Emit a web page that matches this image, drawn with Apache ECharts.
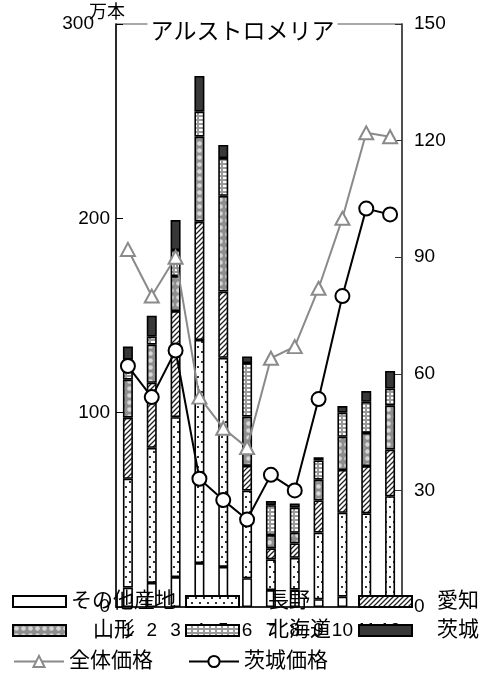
<!DOCTYPE html>
<html><head><meta charset="utf-8">
<script src="https://cdn.jsdelivr.net/npm/echarts@6/dist/echarts.min.js"></script>
<style>html,body{margin:0;padding:0;background:#fff}#c{width:485px;height:678px}</style>
</head><body><div id="c"></div>
<script>
// ---- data ----
const months = ['1','2','3','4','5','6','7','8','9','10','11','12'];
const sonota   = [10, 12.4, 15.4, 22.6, 20.6, 14.8, 8.7, 9, 4, 5.3, 4.6, 4];
const nagano   = [56, 69.5, 82.3, 114.8, 107.6, 45.1, 15.8, 16.3, 34.3, 43.2, 43.6, 53];
const aichi    = [31.4, 33.5, 54.6, 60.9, 34.1, 12.7, 5.7, 7.4, 16.5, 22, 24.3, 24];
const yamagata = [19.6, 19.6, 18, 43.7, 49.3, 25.4, 6.8, 5.5, 10.7, 17.1, 17.1, 22.8];
const hokkaido = [10.3, 4.1, 13.4, 12.9, 19.4, 27.5, 15.4, 12.9, 9.9, 12.4, 16, 8.6];
const ibaraki  = [6.7, 10.8, 15.4, 18.4, 6.8, 3.4, 2.2, 2.2, 1.7, 3.4, 5.5, 9.1];
const zentaiPrice  = [92, 80, 90, 54, 46, 41, 64, 67, 82, 100, 122, 121];
const ibarakiPrice = [62, 54, 66, 33, 27.5, 22.5, 34, 30, 53.5, 80, 102.5, 101];
const leftTicks = {min:0, max:300, interval:100};
const rightTicks = {min:0, max:150, interval:30};

const FONT = "'Liberation Sans', 'Noto Sans CJK JP', sans-serif";

function pat(w, h, draw){
  const c = document.createElement('canvas'); c.width = w; c.height = h;
  const g = c.getContext('2d'); draw(g); return {image: c, repeat: 'repeat'};
}
const pWhite = '#ffffff';
const pDots = pat(8, 10, g => { g.fillStyle='#fff'; g.fillRect(0,0,8,10); g.fillStyle='#333'; g.fillRect(1,1,2,2); g.fillRect(5,6,2,2); });
const pHatch = pat(5, 5, g => { g.fillStyle='#fff'; g.fillRect(0,0,5,5); g.strokeStyle='#222'; g.lineWidth=1.3;
  g.beginPath(); g.moveTo(-1,6); g.lineTo(6,-1); g.moveTo(-1,1); g.lineTo(1,-1); g.moveTo(4,6); g.lineTo(6,4); g.stroke(); });
const pCircles = pat(7, 7, g => { g.fillStyle='#8e8e8e'; g.fillRect(0,0,7,7); g.fillStyle='#d6d6d6'; g.beginPath(); g.arc(3.5,3.5,2.3,0,Math.PI*2); g.fill(); });
const pGrid = pat(6, 4, g => { g.fillStyle='#9a9a9a'; g.fillRect(0,0,6,4); g.fillStyle='#fff'; g.fillRect(1,1,4,2); });
const pBlack = '#383838';

function barSeries(name, data, color){
  return {name, type:'bar', stack:'total', data, barWidth:10, yAxisIndex:0,
    itemStyle:{color, borderColor:'#000', borderWidth:1.6}};
}

const legBase = {padding:0, itemGap:0, textStyle:{fontSize:21, color:'#000', fontFamily:FONT}};
function leg(name, left, top, textPad, isLine){
  return Object.assign({}, legBase, {
    data:[name], left, top,
    icon: isLine ? undefined : 'rect',
    itemWidth: isLine ? 50 : 53, itemHeight: isLine ? 14 : 11,
    textStyle: Object.assign({}, legBase.textStyle, {padding:[0,0,0,textPad]})
  });
}

const chart = echarts.init(document.getElementById('c'), null, {renderer:'canvas'});
chart.setOption({
  animation:false,
  backgroundColor:'#fff',
  textStyle:{fontFamily:FONT},
  title:{text:'アルストロメリア', left:'center', top:19, padding:[2,3], backgroundColor:'#fff',
    textStyle:{fontSize:23, fontWeight:'normal', color:'#000', fontFamily:FONT}},
  grid:{left:116, right:83, top:24, bottom:71, show:true, borderColor:'#8c8c8c', borderWidth:1.5},
  xAxis:{type:'category', data:months,
    axisLine:{lineStyle:{color:'#000', width:1.5}},
    axisTick:{inside:true, length:5, lineStyle:{color:'#000'}},
    axisLabel:{interval:0, margin:14, fontSize:19, color:'#000', fontFamily:FONT}},
  yAxis:[
    Object.assign({type:'value', name:'万本', nameLocation:'end', nameGap:2, nameMoveOverlap:false,
      nameTextStyle:{fontSize:18, color:'#000', padding:[0,18,0,0], fontFamily:FONT},
      axisLine:{show:true, lineStyle:{color:'#000', width:1.5}},
      axisTick:{show:true, inside:true, length:7, lineStyle:{color:'#000'}},
      splitLine:{show:false},
      axisLabel:{fontSize:19, color:'#000', margin:6, fontFamily:FONT,
        formatter: v => v === leftTicks.max ? '{t|' + v + '}' : String(v),
        rich:{t:{fontSize:19, color:'#000', fontFamily:FONT, padding:[0,16,0,0]}}}}, leftTicks),
    Object.assign({type:'value', position:'right',
      axisLine:{show:true, lineStyle:{color:'#333', width:1.5}},
      axisTick:{show:true, inside:true, length:7, lineStyle:{color:'#333'}},
      splitLine:{show:false},
      axisLabel:{fontSize:19, color:'#000', margin:12, fontFamily:FONT}}, rightTicks)
  ],
  legend:[
    leg('その他産地', 12, 591, 0),
    leg('長野', 185, 591, 24),
    leg('愛知', 358, 591, 20),
    leg('山形', 12, 620, 22),
    leg('北海道', 185, 620, 24),
    leg('茨城', 358, 620, 20),
    leg('全体価格', 13, 651, 0, true),
    leg('茨城価格', 188, 651, 0, true)
  ],
  series:[
    barSeries('その他産地', sonota, pWhite),
    barSeries('長野', nagano, pDots),
    barSeries('愛知', aichi, pHatch),
    barSeries('山形', yamagata, pCircles),
    barSeries('北海道', hokkaido, pGrid),
    barSeries('茨城', ibaraki, pBlack),
    {name:'全体価格', type:'line', yAxisIndex:1, data:zentaiPrice, symbol:'triangle', symbolSize:[14,13],
      lineStyle:{color:'#8a8a8a', width:2}, itemStyle:{color:'#fff', borderColor:'#8a8a8a', borderWidth:2}, z:5},
    {name:'茨城価格', type:'line', yAxisIndex:1, data:ibarakiPrice, symbol:'circle', symbolSize:14,
      lineStyle:{color:'#000', width:2}, itemStyle:{color:'#fff', borderColor:'#000', borderWidth:2}, z:6}
  ]
});
</script>
</body></html>
